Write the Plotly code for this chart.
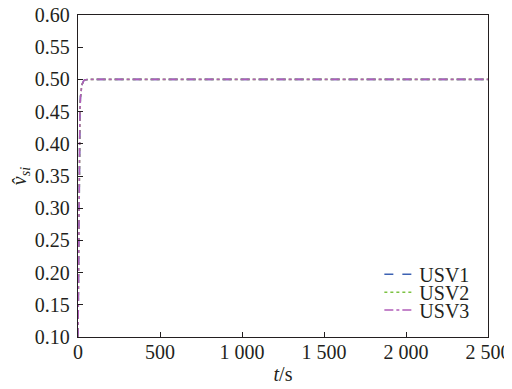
import plotly.graph_objects as go

# time samples (s) and estimated speed estimates for each USV
t = [0, 2, 4, 6, 8, 10, 12, 15, 18, 22, 26, 30, 35, 40, 50, 60, 100, 500, 1000, 1500, 2000, 2500]
usv1 = [0.10, 0.19, 0.27, 0.34, 0.39, 0.43, 0.455, 0.472, 0.482, 0.489, 0.493, 0.496, 0.498, 0.499, 0.5, 0.5, 0.5, 0.5, 0.5, 0.5, 0.5, 0.5]
usv2 = [0.10, 0.19, 0.27, 0.34, 0.39, 0.43, 0.455, 0.472, 0.482, 0.489, 0.493, 0.496, 0.498, 0.499, 0.5, 0.5, 0.5, 0.5, 0.5, 0.5, 0.5, 0.5]
usv3 = [0.10, 0.19, 0.27, 0.34, 0.39, 0.43, 0.455, 0.472, 0.482, 0.489, 0.493, 0.496, 0.498, 0.499, 0.5, 0.5, 0.5, 0.5, 0.5, 0.5, 0.5, 0.5]

series_names = ["USV1", "USV2", "USV3"]
x_tickvals = [0, 500, 1000, 1500, 2000, 2500]
x_ticktext = ["0", "500", "1 000", "1 500", "2 000", "2 500"]
y_tickvals = [0.10, 0.15, 0.20, 0.25, 0.30, 0.35, 0.40, 0.45, 0.50, 0.55, 0.60]

font = dict(family="Liberation Serif", size=20, color="#231f20")
legend_font = dict(family="Liberation Serif", size=20, color="#231f20")

fig = go.Figure()
styles = [("#3d62b3", "dash"), ("#7cc242", "dot"), ("#b15db9", "dashdot")]
legend_ids = ["legend", "legend2", "legend3"]
for name, ys, (c, d), lg in zip(series_names, [usv1, usv2, usv3], styles, legend_ids):
    fig.add_trace(go.Scatter(x=t, y=ys, mode="lines", name=name, legend=lg,
                             line=dict(color=c, dash=d, width=1.6)))

axis_common = dict(showgrid=False, zeroline=False, showline=True, linecolor="#231f20",
                   linewidth=1.4, mirror=True, ticks="inside", ticklen=5, tickwidth=1.1,
                   tickcolor="#231f20", tickfont=font, automargin=False,
                   ticklabeloverflow="allow")

def mk_legend(yc):
    return dict(x=0.735, y=yc, xanchor="left", yanchor="middle",
                bgcolor="rgba(0,0,0,0)", font=legend_font, itemwidth=30,
                borderwidth=0)

fig.update_layout(
    width=504, height=381,
    margin=dict(l=70, r=24, t=7, b=52),
    paper_bgcolor="white", plot_bgcolor="white",
    font=font,
    showlegend=True,
    legend=mk_legend(0.195),
    legend2=mk_legend(0.139),
    legend3=mk_legend(0.084),
    xaxis=dict(range=[0, 2500], tickvals=x_tickvals, ticktext=x_ticktext,
               ticklabelstandoff=-3,
               title=dict(text="<i>t</i>/s", font=font, standoff=4), **axis_common),
    yaxis=dict(range=[0.1, 0.6], tickvals=y_tickvals, tickformat=".2f",
               ticklabelstandoff=3,
               title=dict(text="<i>v̂</i><sub><i>si</i></sub>", font=font, standoff=3), **axis_common),
)

fig.write_html("out.html")
